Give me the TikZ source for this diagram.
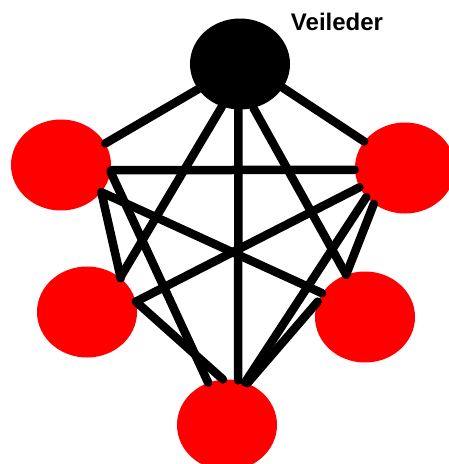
\documentclass[tikz,border=0pt]{standalone}
\usepackage{fontspec}
\setmainfont{Liberation Sans}
\usetikzlibrary{shapes.geometric}
\begin{document}
\begin{tikzpicture}[x=1pt,y=-1pt,
  member/.style={ellipse,fill=red,draw=none,minimum width=100pt,minimum height=91pt,inner sep=0pt},
  leader/.style={member,fill=black},
  link/.style={line width=8.5pt,line cap=round,draw=black}]
\clip (0,0) rectangle (449,464);
\useasboundingbox (0,0) rectangle (449,464);
\node[leader] (k) at (240,64) {};
\node[member] (tl) at (61,165) {};
\node[member] (tr) at (405,168) {};
\node[member] (bl) at (87,312) {};
\node[member] (br) at (365,317) {};
\node[member] (b) at (227,425) {};
\node[font=\bfseries\fontsize{24}{28}\selectfont,inner sep=0pt] (lbl) at (337,22) {Veileder};
% leader links
\draw[link] (k.211) -- (tl.26);
\draw[link] (k.-29) -- (tr.147);
\draw[link] (k.-92) -- (b.76);
\draw[link] (k.-113) -- (bl.46);
\draw[link] (k.-73) -- (br.114);
% member links
\draw[link] (tl.-6) -- (tr.182);
\draw[link] (tl.-8) -- (b.114);
\draw[link] (tl.-34) -- (br.151);
\draw[link] (tl.-34) -- (bl.45);
\draw[link] (tr.-157) -- (bl.12);
\draw[link] (tr.-143) -- (b.67);
\draw[link] (tr.-131) -- (br.114);
\draw[link] (bl.12) -- (b.95);
\draw[link] (br.162) -- (b.64);
\end{tikzpicture}
\end{document}
